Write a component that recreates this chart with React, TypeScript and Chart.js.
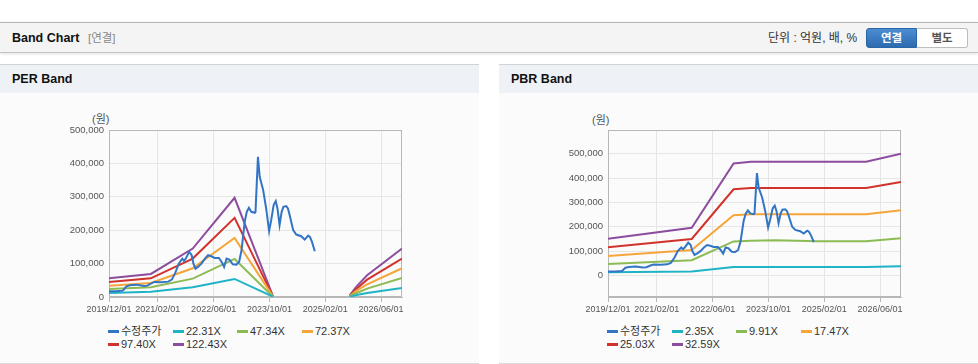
import React, { useEffect, useRef } from "react";
import { Chart, registerables } from "chart.js";
Chart.register(...registerables);

// ---------- data ----------
const xTickDates = ["2019/12/01", "2021/02/01", "2022/06/01", "2023/10/01", "2025/02/01", "2026/06/01"];
const xStart = "2019/12/01";
const xEnd = "2026/12/01";
const yTicks = [0, 100000, 200000, 300000, 400000, 500000];

const priceDates = [
  "2019/12/01", "2020/02/01", "2020/04/01", "2020/05/01", "2020/06/01", "2020/08/01", "2020/10/01", "2020/11/01",
  "2020/12/01", "2021/01/01", "2021/03/01", "2021/05/01", "2021/06/01", "2021/07/01", "2021/08/01", "2021/09/01",
  "2021/09/16", "2021/10/01", "2021/11/01", "2021/11/22", "2021/12/07", "2021/12/25", "2022/01/16", "2022/02/16",
  "2022/03/16", "2022/04/13", "2022/05/10", "2022/06/10", "2022/07/16", "2022/08/10", "2022/09/01", "2022/09/22",
  "2022/10/16", "2022/11/16", "2022/12/16", "2023/01/10", "2023/02/01", "2023/02/28", "2023/03/16", "2023/04/04",
  "2023/04/25", "2023/05/25", "2023/06/01", "2023/06/22", "2023/07/07", "2023/08/07", "2023/09/04", "2023/09/28",
  "2023/10/16", "2023/11/07", "2023/11/25", "2023/12/10", "2023/12/28", "2024/01/16", "2024/02/01", "2024/02/25",
  "2024/03/10", "2024/03/25", "2024/04/25", "2024/05/22", "2024/07/04", "2024/08/04", "2024/09/04", "2024/09/19",
  "2024/10/07", "2024/11/01",
];
const priceValues = [
  17000, 17000, 19000, 32000, 35000, 37000, 33000, 34000,
  40000, 45000, 44000, 46000, 52000, 72000, 100000, 115000,
  108000, 115000, 135000, 125000, 100000, 85000, 90000, 100000,
  115000, 125000, 122000, 117000, 117000, 105000, 90000, 115000,
  112000, 98000, 97000, 105000, 140000, 225000, 255000, 267000,
  255000, 252000, 255000, 420000, 360000, 320000, 262000, 197000,
  230000, 275000, 287000, 265000, 215000, 255000, 270000, 272000,
  265000, 245000, 200000, 187000, 182000, 172000, 184000, 180000,
  165000, 137000,
];

const perLegend = ["수정주가", "22.31X", "47.34X", "72.37X", "97.40X", "122.43X"];
const perBandDates = [
  "2019/12/01", "2020/12/01", "2021/12/01", "2022/12/01", "2023/11/01",
  "2024/09/01", "2025/09/01", "2025/11/01", "2026/02/01", "2026/12/01",
];
const per22 = [12000, 16000, 29000, 54000, 1000, null, 1000, 6000, 12000, 27000];
const per47 = [24000, 29000, 55000, 114000, 1000, null, 2000, 12000, 25000, 57000];
const per72 = [34000, 42000, 86000, 177000, 2000, null, 3000, 19000, 38000, 86000];
const per97 = [45000, 56000, 115000, 237000, 2000, null, 4000, 25000, 52000, 115000];
const per122 = [56000, 69000, 145000, 297000, 3000, null, 5000, 32000, 65000, 145000];

const pbrLegend = ["수정주가", "2.35X", "9.91X", "17.47X", "25.03X", "32.59X"];
const pbrBandDates = [
  "2019/12/01", "2021/12/01", "2022/12/01", "2023/05/01", "2023/12/01", "2024/12/01", "2026/02/01", "2026/12/01",
];
const pbr2 = [14000, 17000, 35000, 35000, 35000, 35000, 35000, 38000];
const pbr9 = [47000, 63000, 140000, 143000, 145000, 141000, 141000, 153000];
const pbr17 = [80000, 105000, 247000, 251000, 251000, 251000, 251000, 268000];
const pbr25 = [116000, 150000, 354000, 359000, 359000, 359000, 359000, 384000];
const pbr32 = [151000, 196000, 460000, 467000, 467000, 467000, 467000, 500000];

const seriesColors = ["#3375c5", "#1fb3c6", "#8cbb54", "#f5a53a", "#d1332c", "#8c4d9f"];

// ---------- helpers ----------
function toMonth(s: string): number {
  const [y, m, d] = s.split("/").map(Number);
  return (y - 2019) * 12 + (m - 12) + (d - 1) / 30;
}
function monthLabel(v: number): string {
  const total = 2019 * 12 + 11 + Math.round(v);
  const y = Math.floor(total / 12);
  const m = (total % 12) + 1;
  return `${y}/${String(m).padStart(2, "0")}/01`;
}
function pts(dates: string[], vals: (number | null)[]) {
  return dates.map((d, i) => ({ x: toMonth(d), y: vals[i] }));
}

const FONT = '"Liberation Sans", "Noto Sans CJK KR", Arial, sans-serif';

const boxPlugin = {
  id: "plotBox",
  beforeDatasetsDraw(chart: any) {
    const { ctx, chartArea } = chart;
    ctx.save();
    ctx.strokeStyle = "#b8b8b8";
    ctx.lineWidth = 1;
    const l = Math.round(chartArea.left) + 0.5;
    const t = Math.round(chartArea.top) + 0.5;
    const r = Math.round(chartArea.right) - 0.5;
    const b = Math.round(chartArea.bottom) - 0.5;
    ctx.strokeRect(l, t, r - l, b - t);
    ctx.restore();
  },
};

type BandProps = {
  bandDates: string[];
  bands: (number | null)[][];
  labels: string[];
  yMin: number;
  yMax: number;
};

function BandChart({ bandDates, bands, labels, yMin, yMax }: BandProps) {
  const ref = useRef<HTMLCanvasElement | null>(null);
  useEffect(() => {
    if (!ref.current) return;
    const datasets: any[] = [
      {
        label: labels[0],
        data: pts(priceDates, priceValues),
        borderColor: seriesColors[0],
        borderWidth: 2,
      },
      ...bands.map((b, i) => ({
        label: labels[i + 1],
        data: pts(bandDates, b),
        borderColor: seriesColors[i + 1],
        borderWidth: 2,
        spanGaps: false,
      })),
    ];
    const chart = new Chart(ref.current, {
      type: "line",
      data: { datasets },
      options: {
        responsive: false,
        animation: false,
        layout: { padding: { left: 49, right: 77, top: 29, bottom: 0 } },
        plugins: { legend: { display: false }, tooltip: { enabled: false } },
        elements: { point: { radius: 0 }, line: { tension: 0 } },
        scales: {
          x: {
            type: "linear",
            min: toMonth(xStart),
            max: toMonth(xEnd),
            afterBuildTicks: (s: any) => {
              s.ticks = xTickDates.map((d) => ({ value: toMonth(d) }));
            },
            afterFit: (s: any) => {
              s.height = 24;
            },
            ticks: {
              callback: (v: any) => monthLabel(Number(v)),
              font: { family: FONT, size: 9 },
              color: "#555",
              maxRotation: 0,
              autoSkip: false,
              padding: 2,
            },
            grid: { color: "#e6e6e6", tickLength: 5, tickColor: "#b8b8b8" },
            border: { color: "#b8b8b8" },
          },
          y: {
            min: yMin,
            max: yMax,
            afterBuildTicks: (s: any) => {
              s.ticks = yTicks.map((v) => ({ value: v }));
            },
            afterFit: (s: any) => {
              s.width = 60;
            },
            ticks: {
              callback: (v: any) => Number(v).toLocaleString("en-US"),
              font: { family: FONT, size: 9.5 },
              color: "#555",
              padding: 5,
            },
            grid: { color: "#e6e6e6", drawTicks: false },
            border: { color: "#b8b8b8" },
          },
        },
      } as any,
      plugins: [boxPlugin],
    });
    return () => chart.destroy();
  }, []);
  return <canvas ref={ref} width={479} height={220} style={{ position: "absolute", left: 0, top: 36, width: 479, height: 220 }} />;
}

function Legend({ labels }: { labels: string[] }) {
  const cols = [0, 65, 129, 194];
  return (
    <>
      {labels.map((t, i) => {
        const left = 108 + cols[i % 4];
        const cy = i < 4 ? 330 - 64 : 343 - 64;
        return (
          <div key={t} style={{ position: "absolute", left, top: cy - 7, height: 14, whiteSpace: "nowrap" }}>
            <div style={{ position: "absolute", left: 0, top: 6, width: 11, height: 3, background: seriesColors[i] }} />
            <span style={{ position: "absolute", left: 13, top: 0, fontSize: 11, lineHeight: "14px", color: "#333", fontFamily: FONT }}>{t}</span>
          </div>
        );
      })}
    </>
  );
}

function Panel({ left, title, children }: { left: number; title: string; children: any }) {
  return (
    <div style={{ position: "absolute", left, top: 64, width: 479, height: 300, boxSizing: "border-box", borderTop: "1px solid #d2d2d2", borderBottom: "1px solid #dcdcdc", background: "#fbfbfb", overflow: "hidden" }}>
      <div style={{ position: "absolute", left: 0, top: 0, width: 479, height: 28, background: "#eef2f7" }}>
        <span style={{ position: "absolute", left: 12, top: 0, lineHeight: "29px", fontSize: 12.5, fontWeight: 700, color: "#111", fontFamily: FONT }}>{title}</span>
      </div>
      {children}
    </div>
  );
}

export default function App() {
  return (
    <div style={{ position: "absolute", left: 0, top: 0, width: 978, height: 364, background: "#fff", fontFamily: FONT, overflow: "hidden" }}>
      {/* top header bar */}
      <div style={{ position: "absolute", left: 0, top: 22, width: 978, height: 31, boxSizing: "border-box", borderTop: "1px solid #b4b4b4", borderBottom: "1px solid #c4c4c4", background: "#f4f4f4", boxShadow: "0 1px 3px rgba(0,0,0,0.12)" }}>
        <span style={{ position: "absolute", left: 12, top: 0, lineHeight: "30px", fontSize: 12.5, fontWeight: 700, color: "#111" }}>Band Chart</span>
        <span style={{ position: "absolute", left: 88, top: 0, lineHeight: "30px", fontSize: 11.5, color: "#888" }}>[연결]</span>
        <span style={{ position: "absolute", left: 768, top: 0, lineHeight: "30px", fontSize: 12, color: "#333" }}>단위 : 억원, 배, %</span>
        <div style={{ position: "absolute", left: 866, top: 5, width: 51, height: 20, boxSizing: "border-box", border: "1px solid #2a66a6", borderRadius: "3px 0 0 3px", background: "linear-gradient(#4c8cd2, #2d6bb0)", color: "#fff", fontSize: 11.5, fontWeight: 700, textAlign: "center", lineHeight: "18px" }}>연결</div>
        <div style={{ position: "absolute", left: 917, top: 5, width: 51, height: 20, boxSizing: "border-box", border: "1px solid #bdbdbd", borderLeft: "none", borderRadius: "0 3px 3px 0", background: "#fff", color: "#555", fontSize: 11.5, fontWeight: 700, textAlign: "center", lineHeight: "18px" }}>별도</div>
      </div>

      <Panel left={0} title="PER Band">
        <span style={{ position: "absolute", left: 92, top: 45, fontSize: 11, color: "#555" }}>(원)</span>
        <BandChart bandDates={perBandDates} bands={[per22, per47, per72, per97, per122]} labels={perLegend} yMin={0} yMax={500000} />
        <Legend labels={perLegend} />
      </Panel>

      <Panel left={499} title="PBR Band">
        <span style={{ position: "absolute", left: 93, top: 46, fontSize: 11, color: "#555" }}>(원)</span>
        <BandChart bandDates={pbrBandDates} bands={[pbr2, pbr9, pbr17, pbr25, pbr32]} labels={pbrLegend} yMin={-88000} yMax={597000} />
        <Legend labels={pbrLegend} />
      </Panel>
    </div>
  );
}
